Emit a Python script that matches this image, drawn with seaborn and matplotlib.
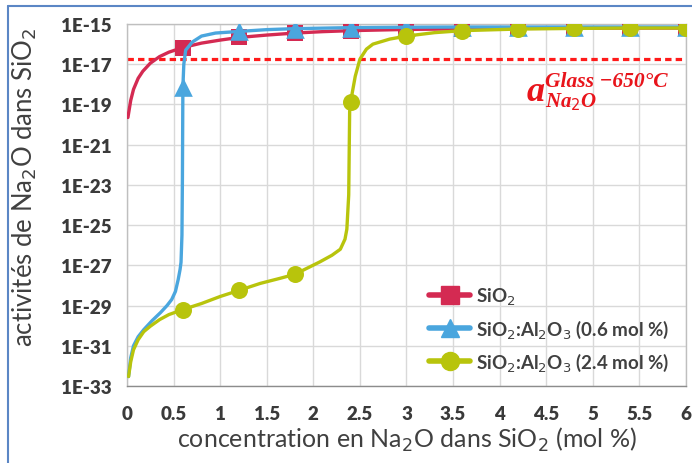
import numpy as np
import matplotlib.pyplot as plt
import seaborn as sns
from matplotlib.lines import Line2D
from matplotlib.ticker import FixedLocator, MultipleLocator, FuncFormatter

sns.set_style("white")
plt.rcParams['font.family'] = ['Lato', 'DejaVu Sans']

# --- data (log10 of Na2O activity) ---
# SiO2
sio2_x = [0.01, 0.04, 0.07, 0.12, 0.17, 0.25, 0.35, 0.45, 0.6, 0.8, 1.0, 1.2, 1.5, 1.8,
          2.1, 2.4, 3.0, 3.6, 4.2, 4.8, 5.4, 6.0]
sio2_log = [-19.65, -18.8, -18.25, -17.7, -17.35, -16.95, -16.62, -16.4, -16.17, -15.95,
            -15.8, -15.67, -15.55, -15.45, -15.38, -15.33, -15.27, -15.24, -15.22, -15.21,
            -15.2, -15.2]
# SiO2:Al2O3 (0.6 mol %)
al06_x = [0.017, 0.04, 0.07, 0.12, 0.18, 0.27, 0.36, 0.43, 0.48, 0.52, 0.55, 0.57, 0.58,
          0.59, 0.595, 0.6, 0.61, 0.63, 0.7, 0.8, 0.95, 1.2, 1.5, 1.8, 2.4, 3.0, 3.6, 4.2,
          4.8, 5.4, 6.0]
al06_log = [-32.53, -31.6, -31.0, -30.55, -30.2, -29.75, -29.35, -29.0, -28.7, -28.3,
            -27.7, -27.2, -26.85, -25.5, -22.7, -18.14, -17.0, -16.3, -15.9, -15.6, -15.45,
            -15.37, -15.28, -15.23, -15.18, -15.16, -15.15, -15.15, -15.15, -15.15, -15.15]
# SiO2:Al2O3 (2.4 mol %)
al24_x = [0.017, 0.04, 0.07, 0.12, 0.18, 0.25, 0.35, 0.45, 0.6, 0.8, 1.0, 1.2, 1.43, 1.64,
          1.8, 2.07, 2.2, 2.29, 2.34, 2.36, 2.38, 2.39, 2.4, 2.45, 2.5, 2.57, 2.64, 2.82,
          3.0, 3.3, 3.6, 4.2, 4.8, 5.4, 6.0]
al24_log = [-32.53, -31.8, -31.2, -30.7, -30.3, -30.03, -29.7, -29.45, -29.2, -28.9,
            -28.55, -28.25, -27.9, -27.65, -27.45, -26.83, -26.5, -26.2, -25.7, -25.2,
            -23.5, -19.35, -18.88, -17.6, -16.75, -16.25, -16.0, -15.75, -15.6, -15.43,
            -15.33, -15.25, -15.22, -15.2, -15.2]

# marker points
mark_x = [0.6, 1.2, 1.8, 2.4, 3.0, 3.6, 4.2, 4.8, 5.4, 6.0]
sio2_mark = [-16.17, -15.67, -15.45, -15.33, -15.27, -15.24, -15.22, -15.21, -15.2, -15.2]
al06_mark = [-18.14, -15.37, -15.23, -15.18, -15.16, -15.15, -15.15, -15.15, -15.15, -15.15]
al24_mark = [-29.2, -28.25, -27.45, -18.88, -15.6, -15.33, -15.25, -15.22, -15.2, -15.2]

glass_activity = 1.8e-17

labels = ['SiO$_2$', 'SiO$_2$:Al$_2$O$_3$ (0.6 mol %)', 'SiO$_2$:Al$_2$O$_3$ (2.4 mol %)']
colors = ['#d42a52', '#4aa6de', '#b8c40c']
markers = ['s', '^', 'o']
msizes = [140, 180, 150]

y_ticks = [1e-15, 1e-17, 1e-19, 1e-21, 1e-23, 1e-25, 1e-27, 1e-29, 1e-31, 1e-33]

# --- figure ---
fig = plt.figure(figsize=(6.92, 4.64), dpi=100)
ax = fig.add_axes([0.1835, 0.166, 0.8078, 0.7801])

series = [(sio2_x, sio2_log, sio2_mark), (al06_x, al06_log, al06_mark), (al24_x, al24_log, al24_mark)]
for i, (cx, clog, mlog) in enumerate(series):
    sns.lineplot(x=cx, y=10.0 ** np.array(clog), sort=False, estimator=None,
                 color=colors[i], lw=2.4, ax=ax, zorder=3 + i)
    sns.scatterplot(x=mark_x, y=10.0 ** np.array(mlog), marker=markers[i], s=msizes[i],
                    color=colors[i], edgecolor=colors[i], linewidth=0, ax=ax, zorder=3 + i)

ax.axhline(glass_activity, color='#ff1a1a', lw=2.3, dashes=(2.0, 1.3), zorder=2)

ax.set_yscale('log')
ax.set_xlim(0, 6)
ax.set_ylim(1e-33, 1e-15)
ax.yaxis.set_major_locator(FixedLocator(y_ticks))
ax.yaxis.set_minor_locator(FixedLocator([]))
ax.yaxis.set_major_formatter(FuncFormatter(lambda v, p: f"1E{int(round(np.log10(v)))}"))
ax.xaxis.set_major_locator(MultipleLocator(0.5))
ax.xaxis.set_minor_locator(MultipleLocator(0.1))
ax.xaxis.set_major_formatter(FuncFormatter(lambda v, p: f"{v:g}"))

ax.grid(True, which='major', color='#d9d9d9', lw=1, zorder=0)
for s in ax.spines.values():
    s.set_color('#bfbfbf')
    s.set_linewidth(1)
ax.spines['bottom'].set_color('#8c8c8c')

ax.tick_params(axis='both', which='major', labelsize=13.5, labelcolor='#3a3a3a', color='#8c8c8c')
ax.tick_params(axis='x', which='major', direction='out', length=6, pad=8)
ax.tick_params(axis='x', which='minor', direction='in', length=4, color='#8c8c8c')
ax.tick_params(axis='y', which='major', direction='out', length=8, pad=3)
for t in ax.get_xticklabels() + ax.get_yticklabels():
    t.set_fontweight('heavy')

ax.set_xlabel('concentration en Na$_2$O dans SiO$_2$ (mol %)', fontsize=18, color='#404040', labelpad=2)
ax.set_ylabel('activités de Na$_2$O dans SiO$_2$', fontsize=18.5, color='#404040')
ax.yaxis.set_label_coords(-0.158, 0.552)

# annotation for the glass activity line
ax.text(0.714, 0.790, 'a', transform=ax.transAxes, color='#e8141b', fontsize=26,
        family='Liberation Serif', fontweight='bold', style='italic', va='baseline')
ax.text(0.747, 0.830, 'Glass −650°C', transform=ax.transAxes, color='#e8141b', fontsize=15.5,
        family='Liberation Serif', fontweight='bold', style='italic', va='baseline')
ax.text(0.747, 0.772, 'Na$_2$O', transform=ax.transAxes, color='#e8141b', fontsize=15,
        family='Liberation Serif', fontweight='bold', style='italic', va='baseline')

handles = [Line2D([], [], color=colors[i], lw=4, marker=markers[i], markersize=13)
           for i in range(3)]
leg = ax.legend(handles, labels, loc='lower right', bbox_to_anchor=(1.0, -0.01),
                frameon=False, fontsize=13.5, handlelength=2.2, labelspacing=0.55,
                handletextpad=0.3)
for t in leg.get_texts():
    t.set_color('#404040')
    t.set_fontweight('bold')

# blue frame around the picture (left/top edges visible)
fig.add_artist(Line2D([8 / 692, 8 / 692], [0, 1 - 7 / 464], transform=fig.transFigure,
                      color='#5b86c5', lw=1.5))
fig.add_artist(Line2D([8 / 692, 1], [1 - 7 / 464, 1 - 7 / 464], transform=fig.transFigure,
                      color='#5b86c5', lw=1.5))

fig.savefig('out.png', dpi=100)
